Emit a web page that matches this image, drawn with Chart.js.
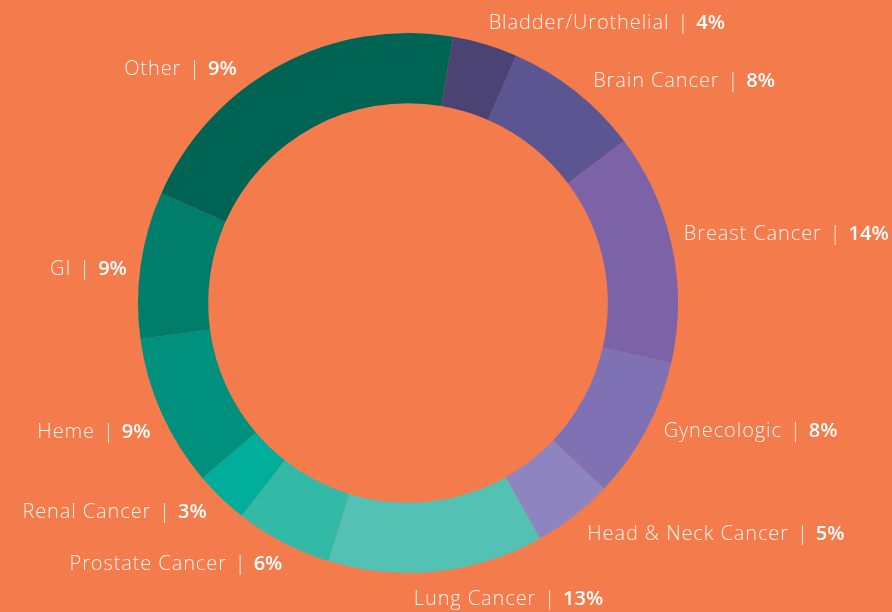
<!DOCTYPE html>
<html>
<head>
<meta charset="utf-8">
<script src="https://cdn.jsdelivr.net/npm/chart.js@4.4.0/dist/chart.umd.min.js"></script>
<style>
  html, body { margin: 0; padding: 0; background: #F47B4C; }
  #wrap { width: 892px; height: 612px; }
</style>
</head>
<body>
<div id="wrap"><canvas id="donut"></canvas></div>
<script>
// 데이터
var categories = ['Bladder/Urothelial', 'Brain Cancer', 'Breast Cancer', 'Gynecologic', 'Head & Neck Cancer',
  'Lung Cancer', 'Prostate Cancer', 'Renal Cancer', 'Heme', 'GI', 'Other'];
// 화면에서 읽은 조각 크기 (%)
var sliceValues = [3.9, 8.2, 13.8, 8.5, 4.8, 12.9, 5.8, 3.2, 9.1, 8.8, 21.0];
// 라벨에 적힌 값
var labelPercents = ['4%', '8%', '14%', '8%', '5%', '13%', '6%', '3%', '9%', '9%', '9%'];

var colors = ['#4A4373', '#5B5591', '#7C62A6', '#7E71B4', '#8E84BF', '#53C2B4',
  '#33BAA6', '#00AE9B', '#00917E', '#007E6C', '#006454'];

// 라벨 위치 미세 조정
var nudges = [[0, -9], [10, -1], [0, -10], [7, -5], [6, 9], [-24, 16], [5, 11], [-6, 6], [0, 14], [-2, 6], [-38, 15]];

var labelPlugin = {
  id: 'outLabels',
  afterDatasetsDraw: function (chart) {
    var ctx = chart.ctx;
    var meta = chart.getDatasetMeta(0);
    var lightFont = '300 20px "Open Sans", sans-serif';
    var boldFont = '600 20px "Open Sans", sans-serif';
    var gapL = 8, gapR = 8;
    ctx.save();
    ctx.textBaseline = 'middle';
    ctx.textAlign = 'left';
    meta.data.forEach(function (arc, i) {
      var p = arc.getProps(['x', 'y', 'startAngle', 'endAngle', 'outerRadius'], true);
      var mid = (p.startAngle + p.endAngle) / 2;
      var r = p.outerRadius + 12;
      var x = p.x + Math.cos(mid) * r + nudges[i][0];
      var y = p.y + Math.sin(mid) * r + nudges[i][1];
      var name = categories[i];
      var pct = labelPercents[i];
      ctx.letterSpacing = '0.9px';
      ctx.font = lightFont;
      var wName = ctx.measureText(name).width;
      ctx.letterSpacing = '0px';
      var wBar = ctx.measureText('|').width;
      ctx.font = boldFont;
      var wPct = ctx.measureText(pct).width;
      var total = wName + gapL + wBar + gapR + wPct;
      var left = Math.cos(mid) >= -0.15 ? x : x - total;

      ctx.fillStyle = '#FFF3EC';
      ctx.font = lightFont;
      ctx.letterSpacing = '0.9px';
      ctx.fillText(name, left, y);
      ctx.letterSpacing = '0px';
      ctx.fillText('|', left + wName + gapL, y);
      ctx.fillStyle = '#FFFFFF';
      ctx.font = boldFont;
      ctx.fillText(pct, left + wName + gapL + wBar + gapR, y);
    });
    ctx.restore();
  }
};

var ctx = document.getElementById('donut').getContext('2d');
var donutChart = new Chart(ctx, {
  type: 'doughnut',
  data: {
    labels: categories,
    datasets: [{
      data: sliceValues,
      backgroundColor: colors,
      borderWidth: 0
    }]
  },
  options: {
    responsive: true,
    maintainAspectRatio: false,
    animation: false,
    rotation: 9.6,
    cutout: '74%',
    layout: { padding: { top: 33, bottom: 39, left: 0, right: 76 } },
    plugins: {
      legend: { display: false },
      tooltip: { enabled: false }
    }
  },
  plugins: [labelPlugin]
});
</script>
</body>
</html>
